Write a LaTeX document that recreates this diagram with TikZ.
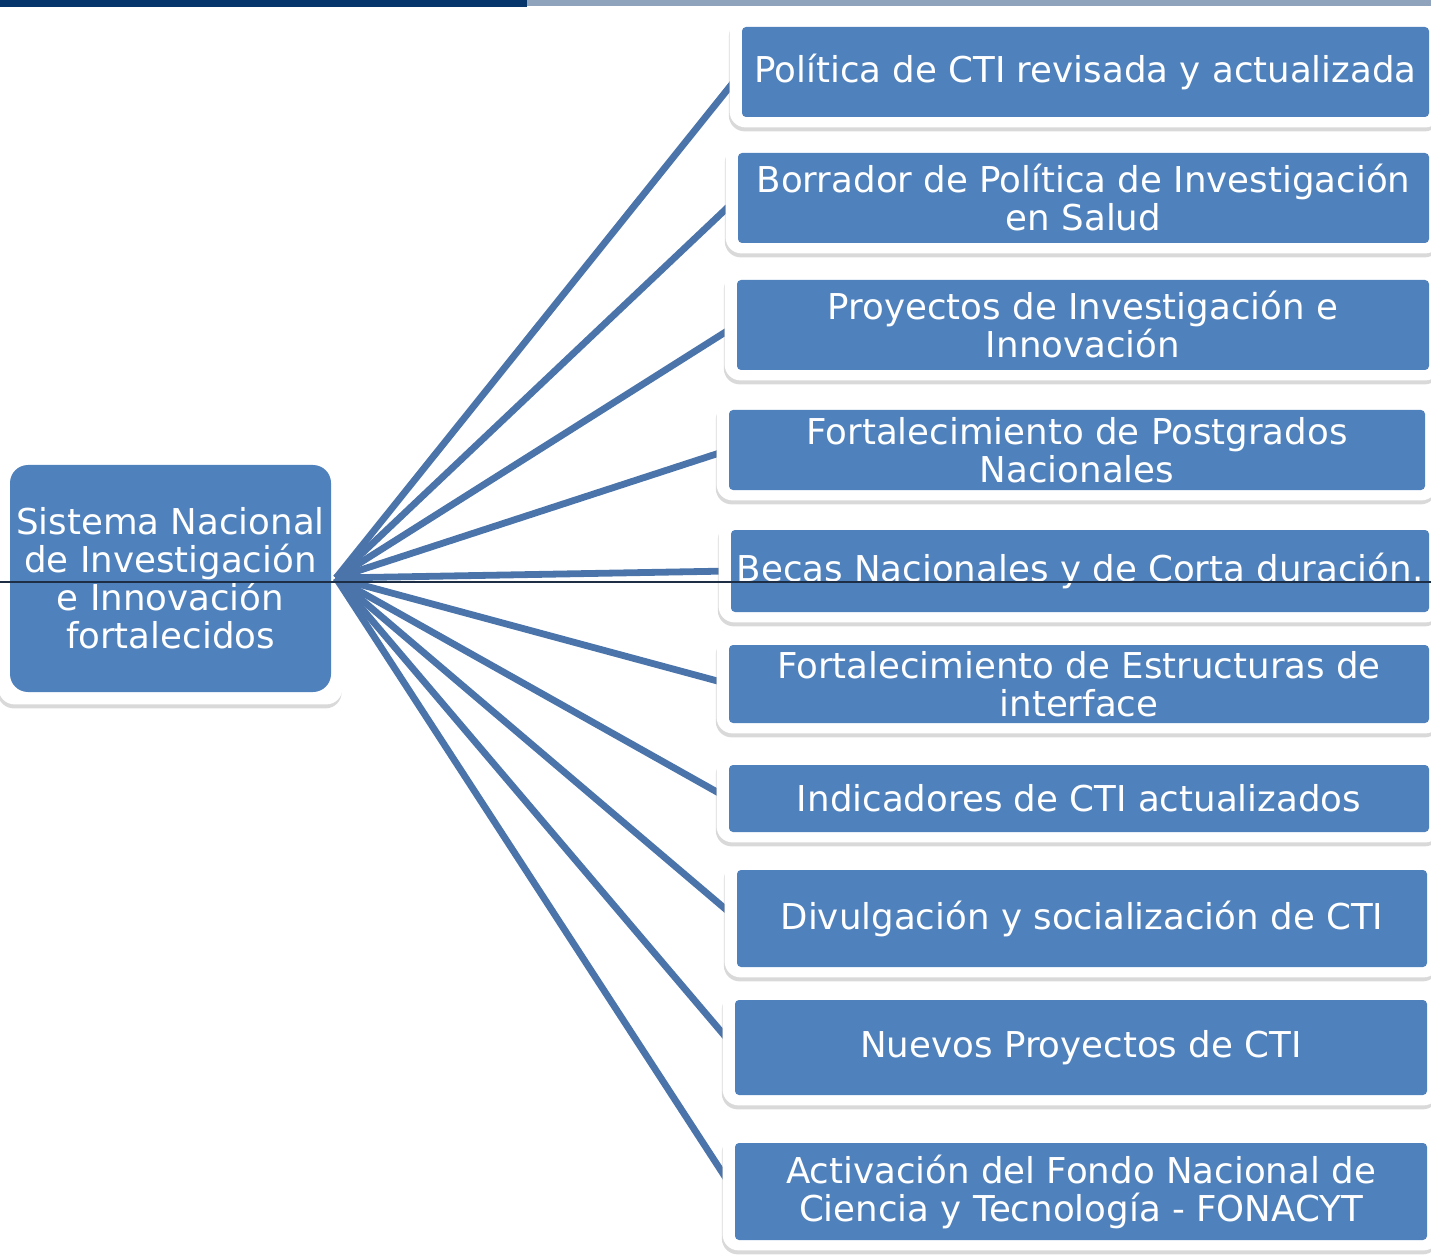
\documentclass[tikz,border=0pt]{standalone}
\usepackage{fontspec}
\setmainfont{DejaVu Sans}
\usetikzlibrary{fit,shadows,backgrounds}
\definecolor{boxblue}{HTML}{4F81BD}
\definecolor{linkblue}{HTML}{4A74AA}
\definecolor{barnavy}{HTML}{06356B}
\pgfdeclarelayer{links}
\pgfsetlayers{links,background,main}
\tikzset{
  leaf/.style={fill=boxblue, text=white, rounded corners=2pt, align=center,
    font=\fontsize{17.8}{19}\selectfont, inner sep=0pt},
  root/.style={leaf, rounded corners=9pt},
  frame/.style={fill=white, rounded corners=8pt,
    drop shadow={shadow xshift=-0.4pt, shadow yshift=-2pt, opacity=0.3}},
  link/.style={draw=linkblue, line width=3.4pt}
}
\begin{document}
\begin{tikzpicture}[x=0.5pt,y=-0.5pt]
\useasboundingbox (0,0) rectangle (1431,1257);

\fill[barnavy] (0,0) rectangle (527,7);
\fill[barnavy!45] (527,0) rectangle (1431,6);

\node[root, minimum width=160.5pt, minimum height=113.5pt] (root) at (170.5,578.5) {Sistema Nacional\\de Investigación\\e Innovación\\fortalecidos};
\coordinate (hub) at (336,578);

\node[leaf, minimum width=343.5pt, minimum height=45pt] (pol) at (1085.5,72) {Política de CTI revisada y actualizada};
\node[leaf, minimum width=345.5pt, minimum height=45pt] (bor) at (1083.5,198) {Borrador de Política de Investigación\\en Salud};
\node[leaf, minimum width=346pt, minimum height=45pt] (pro) at (1083,325) {Proyectos de Investigación e\\Innovación};
\node[leaf, minimum width=348pt, minimum height=40pt] (pos) at (1077,450) {Fortalecimiento de Postgrados\\Nacionales};
\node[leaf, minimum width=349pt, minimum height=41pt] (bec) at (1080,571) {Becas Nacionales y de Corta duración.};
\node[leaf, minimum width=350pt, minimum height=39pt] (est) at (1079,684) {Fortalecimiento de Estructuras de\\interface};
\node[leaf, minimum width=350pt, minimum height=33.5pt] (ind) at (1079,798.5) {Indicadores de CTI actualizados};
\node[leaf, minimum width=345pt, minimum height=48.5pt] (div) at (1082,918.5) {Divulgación y socialización de CTI};
\node[leaf, minimum width=346pt, minimum height=47.5pt] (nue) at (1081,1047.5) {Nuevos Proyectos de CTI};
\node[leaf, minimum width=346pt, minimum height=48.5pt] (act) at (1081,1191.5) {Activación del Fondo Nacional de\\Ciencia y Tecnología - FONACYT};

\begin{pgfonlayer}{background}
\node[frame, fit=(pol), inner xsep=6pt, inner ysep=5pt] (polf) {};
\node[frame, fit=(bor), inner xsep=6pt, inner ysep=5pt] (borf) {};
\node[frame, fit=(pro), inner xsep=6pt, inner ysep=5pt] (prof) {};
\node[frame, fit=(pos), inner xsep=6pt, inner ysep=5pt] (posf) {};
\node[frame, fit=(bec), inner xsep=6pt, inner ysep=5pt] (becf) {};
\node[frame, fit=(est), inner xsep=6pt, inner ysep=5pt] (estf) {};
\node[frame, fit=(ind), inner xsep=6pt, inner ysep=5pt] (indf) {};
\node[frame, fit=(div), inner xsep=6pt, inner ysep=5pt] (divf) {};
\node[frame, fit=(nue), inner xsep=6pt, inner ysep=5pt] (nuef) {};
\node[frame, fit=(act), inner xsep=6pt, inner ysep=5pt] (actf) {};
\end{pgfonlayer}

\begin{pgfonlayer}{links}
\node[frame, fit=(root), inner xsep=5.5pt, inner ysep=6pt] (rootf) {};
\draw[link] (hub) -- (pol.west);
\draw[link] (hub) -- (bor.west);
\draw[link] (hub) -- (pro.west);
\draw[link] (hub) -- (pos.west);
\draw[link] (hub) -- (bec.west);
\draw[link] (hub) -- (est.west);
\draw[link] (hub) -- (ind.west);
\draw[link] (hub) -- (div.west);
\draw[link] (hub) -- (nue.west);
\draw[link] (hub) -- (act.west);
\end{pgfonlayer}

\draw[line width=0.6pt, black!60!linkblue] (0,582) -- (1431,582);
\end{tikzpicture}
\end{document}
